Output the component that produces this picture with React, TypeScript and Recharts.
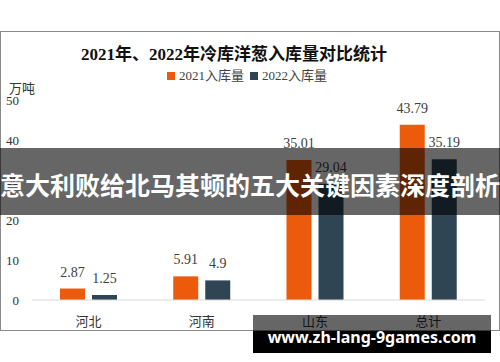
import React from "react";
import { BarChart, Bar, XAxis, YAxis, LabelList } from "recharts";

const categories = ["河北", "河南", "山东", "总计"];
const values2021 = [2.87, 5.91, 35.01, 43.79];
const values2022 = [1.25, 4.9, 29.04, 35.19];
const yTicks = [0, 10, 20, 30, 40, 50];
const seriesNames = ["2021入库量", "2022入库量"];
const titleText = "2021年、2022年冷库洋葱入库量对比统计";
const unitText = "万吨";
const bannerText = "意大利败给北马其顿的五大关键因素深度剖析";
const siteText = "www.zh-lang-9games.com";

const data = categories.map((c, i) => ({ name: c, v2021: values2021[i], v2022: values2022[i] }));

const SERIF = '"Liberation Serif", "Noto Sans CJK SC", serif';
const ORANGE = "#EC5A0C";
const DARK = "#2F4554";
const seriesColors = [ORANGE, DARK];

function YTick(props: any) {
  const { x, y, payload } = props;
  return (
    <text x={x - 5} y={y} dy={4.5} textAnchor="end" fontSize={13} fill="#333333">
      {payload.value}
    </text>
  );
}

export default function App() {
  return (
    <div style={{ position: "absolute", left: 0, top: 0, width: 500, height: 362, background: "#fff" }}>
      <BarChart width={500} height={362} data={data} margin={{ top: 100, right: 15, bottom: 32, left: 0 }} barGap={7} barSize={25}>
        <XAxis
          dataKey="name"
          height={30}
          tickLine={false}
          axisLine={{ stroke: "#d9d9d9" }}
          tickMargin={11}
          tick={{ fontSize: 13, fill: "#333333", fontFamily: SERIF }}
        />
        <YAxis
          type="number"
          width={32}
          domain={[0, 50]}
          ticks={yTicks}
          interval={0}
          axisLine={{ stroke: "none" }}
          tickLine={{ stroke: "none" }}
          tick={<YTick />}
        />
        <Bar dataKey="v2021" name={seriesNames[0]} fill={ORANGE} isAnimationActive={false}>
          <LabelList dataKey="v2021" position="top" offset={12} fill="#404040" fontSize={14} fontFamily={SERIF} />
        </Bar>
        <Bar dataKey="v2022" name={seriesNames[1]} fill={DARK} isAnimationActive={false}>
          <LabelList dataKey="v2022" position="top" offset={12} fill="#404040" fontSize={14} fontFamily={SERIF} />
        </Bar>
      </BarChart>
      <div
        style={{
          position: "absolute",
          left: 0,
          top: 31,
          width: 500,
          height: 300,
          boxSizing: "border-box",
          border: "1px solid #8a8a8a",
          pointerEvents: "none",
        }}
      />
      <div
        style={{
          position: "absolute",
          left: 0,
          top: 44,
          width: 468,
          textAlign: "center",
          fontFamily: SERIF,
          fontWeight: 700,
          fontSize: 17,
          lineHeight: "22px",
          color: "#111",
          whiteSpace: "nowrap",
        }}
      >
        {titleText}
      </div>
      <div
        style={{
          position: "absolute",
          left: 0,
          top: 68,
          width: 496,
          display: "flex",
          justifyContent: "center",
          gap: 4,
          fontFamily: SERIF,
          fontSize: 13,
          lineHeight: "16px",
          color: "#404040",
        }}
      >
        {seriesNames.map((n, i) => (
          <span key={n} style={{ display: "inline-flex", alignItems: "center", marginRight: 2 }}>
            <span style={{ display: "inline-block", width: 8, height: 8, background: seriesColors[i], marginRight: 4 }} />
            {n}
          </span>
        ))}
      </div>
      <div
        style={{
          position: "absolute",
          left: 9,
          top: 81,
          fontFamily: SERIF,
          fontSize: 13,
          lineHeight: "16px",
          color: "#333",
        }}
      >
        {unitText}
      </div>
      <div
        style={{
          position: "absolute",
          left: 0,
          top: 148,
          width: 500,
          height: 67,
          background: "rgba(0,0,0,0.6)",
          display: "flex",
          alignItems: "center",
          justifyContent: "center",
          overflow: "hidden",
        }}
      >
        <span
          style={{
            fontFamily: '"Noto Sans CJK SC", sans-serif',
            fontWeight: 700,
            fontSize: 25,
            lineHeight: "30px",
            color: "#fff",
            whiteSpace: "nowrap",
            marginTop: 4,
          }}
        >
          {bannerText}
        </span>
      </div>
      <div style={{ position: "absolute", left: 253, top: 315, width: 238, height: 16, background: "rgba(0,0,0,0.6)" }} />
      <div style={{ position: "absolute", left: 253, top: 331, width: 238, height: 22, background: "#000" }} />
      <div
        style={{
          position: "absolute",
          left: 253,
          top: 326,
          width: 238,
          textAlign: "center",
          fontFamily: '"Noto Sans", sans-serif',
          fontWeight: 700,
          fontSize: 16,
          lineHeight: "22px",
          color: "#fff",
          whiteSpace: "nowrap",
        }}
      >
        {siteText}
      </div>
    </div>
  );
}
